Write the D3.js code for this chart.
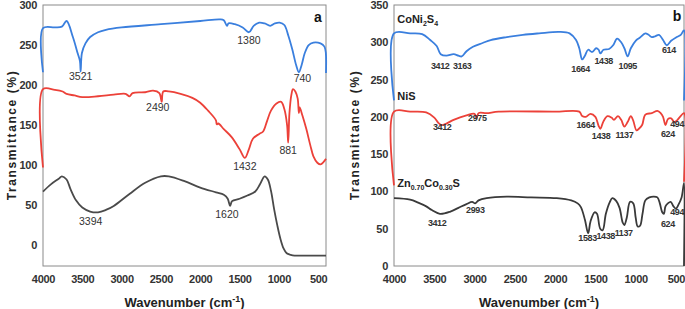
<!DOCTYPE html>
<html>
<head>
<meta charset="utf-8">
<script src="https://cdn.jsdelivr.net/npm/d3@7"></script>
<style>
  body { margin: 0; background: #fff; }
  svg text { font-family: "Liberation Sans", Arial, sans-serif; }
</style>
</head>
<body>
<div id="chart"></div>
<script>
// wavenumber ticks shared by both panels
const xTicks = [4000, 3500, 3000, 2500, 2000, 1500, 1000, 500];
const yTicksA = [0, 50, 100, 150, 200, 250, 300];
const yTicksB = [0, 50, 100, 150, 200, 250, 300, 350];

// panel a spectra, [wavenumber, transmittance]
const aBlue = [[4000, 216], [4000, 271], [3850, 272], [3760, 273], [3700, 280], [3620, 260], [3560, 240],
  [3530, 230], [3521, 217], [3505, 240], [3460, 252], [3400, 260], [3300, 266], [3200, 269], [3000, 272],
  [2500, 276], [2000, 280], [1750, 282], [1700, 281], [1660, 274], [1640, 277], [1560, 276], [1460, 272],
  [1380, 266], [1320, 274], [1250, 278], [1180, 277], [1110, 274], [1050, 277], [990, 278], [930, 275],
  [880, 262], [830, 245], [780, 225], [745, 216], [710, 225], [670, 240], [620, 250], [560, 253],
  [470, 252], [420, 248], [402, 240], [400, 215]];
const aRed = [[4000, 97], [4000, 195], [3850, 194], [3750, 192], [3700, 189], [3600, 187], [3500, 185],
  [3300, 186], [3100, 188], [2950, 189], [2900, 186], [2860, 190], [2700, 191], [2600, 193], [2520, 190],
  [2490, 179], [2470, 192], [2400, 192], [2250, 189], [2100, 184], [2000, 178], [1900, 168], [1800, 156],
  [1790, 151], [1770, 152], [1700, 145], [1600, 135], [1500, 120], [1432, 109], [1380, 120], [1330, 133],
  [1250, 139], [1200, 142], [1150, 155], [1100, 168], [1030, 177], [970, 179], [930, 170], [895, 150],
  [881, 128], [865, 165], [840, 188], [820, 195], [790, 192], [760, 183], [745, 165], [735, 172], [700, 162],
  [650, 145], [600, 125], [560, 111], [510, 103], [470, 101], [430, 104], [400, 108]];
const aGray = [[4000, 67], [3900, 76], [3800, 83], [3760, 86], [3700, 82], [3650, 70], [3580, 56], [3500, 47],
  [3400, 42], [3300, 41], [3200, 44], [3100, 49], [2900, 64], [2700, 78], [2500, 86], [2400, 86], [2200, 80],
  [2000, 72], [1800, 66], [1700, 63], [1650, 58], [1620, 49], [1595, 55], [1500, 58], [1400, 62], [1300, 67],
  [1240, 76], [1180, 86], [1140, 82], [1100, 68], [1060, 45], [1020, 25], [980, 8], [940, -4], [900, -10],
  [850, -12], [800, -13], [700, -13], [400, -13]];

// panel b spectra
const bBlue = [[4000, 222], [4000, 312], [3800, 312], [3650, 311], [3550, 303], [3470, 295], [3420, 284],
  [3350, 282], [3260, 284], [3200, 282], [3160, 281], [3100, 288], [3020, 294], [2900, 299], [2800, 303],
  [2600, 307], [2400, 310], [2200, 312], [1950, 314], [1820, 312], [1740, 303], [1700, 292], [1664, 277],
  [1630, 282], [1590, 290], [1540, 287], [1490, 292], [1460, 290], [1438, 285], [1400, 290], [1330, 291],
  [1280, 296], [1230, 305], [1180, 300], [1140, 292], [1100, 281], [1060, 292], [1000, 302], [950, 306],
  [880, 312], [840, 310], [800, 307], [760, 308], [710, 310], [660, 303], [614, 296], [560, 302],
  [490, 307], [440, 310], [400, 316], [400, 222]];
const bRed = [[4000, 108], [4000, 207], [3800, 207], [3600, 206], [3500, 199], [3450, 192], [3410, 189],
  [3350, 191], [3260, 196], [3100, 202], [3000, 204], [2975, 198], [2950, 205], [2850, 205], [2700, 207],
  [2000, 207], [1700, 207], [1664, 201], [1620, 200], [1560, 204], [1500, 200], [1460, 188], [1438, 184],
  [1400, 194], [1350, 201], [1300, 199], [1270, 196], [1220, 201], [1180, 196], [1140, 187], [1100, 193],
  [1060, 201], [1030, 195], [990, 182], [960, 184], [920, 189], [880, 203], [800, 205], [730, 208],
  [690, 205], [660, 200], [630, 189], [600, 197], [560, 198], [520, 193], [490, 195], [450, 200],
  [400, 205], [400, 113]];
const bBlack = [[4000, 91], [3800, 89], [3700, 85], [3600, 80], [3530, 75], [3430, 70], [3300, 73],
  [3200, 78], [3100, 83], [3030, 86], [2993, 84], [2950, 88], [2850, 91], [2600, 93], [2300, 92],
  [1980, 91], [1800, 88], [1720, 84], [1680, 79], [1630, 62], [1590, 44], [1560, 60], [1510, 72],
  [1480, 70], [1440, 50], [1410, 48], [1370, 70], [1320, 86], [1290, 91], [1240, 87], [1200, 78],
  [1160, 58], [1140, 55], [1110, 65], [1070, 86], [1030, 84], [1000, 65], [975, 53], [945, 54],
  [915, 70], [880, 88], [830, 92], [780, 93], [730, 92], [700, 84], [670, 72], [650, 70], [630, 80],
  [600, 84], [565, 86], [530, 80], [500, 77], [470, 82], [430, 92], [400, 111], [400, 0]];

// peak labels: [text, wavenumber, transmittance, anchor]
const aLabels = [["3521", 3521, 211], ["1380", 1380, 256], ["740", 700, 209], ["2490", 2540, 172],
  ["881", 881, 119], ["1432", 1432, 99], ["3394", 3394, 30], ["1620", 1660, 38]];
const bLabels = [["3412", 3427, 269], ["3163", 3153, 269], ["1664", 1684, 265], ["1438", 1397, 275],
  ["1095", 1098, 269], ["614", 588, 290],
  ["3412", 3402, 186], ["2975", 2966, 198], ["1664", 1621, 189], ["1438", 1430, 175],
  ["1137", 1140, 176], ["624", 600, 177], ["494", 400, 191, "end"],
  ["3412", 3465, 58], ["2993", 2991, 75], ["1583", 1597, 38], ["1438", 1372, 40],
  ["1137", 1148, 44], ["624", 600, 57], ["494", 400, 73, "end"]];

const blue = "#3a7fde", red = "#ec4139", gray = "#4a4a4a";

const svg = d3.select("#chart").append("svg")
  .attr("width", 685)
  .attr("height", 309);

function drawPanel(p) {
  const x = d3.scaleLinear().domain([4000, 400]).range([p.left, p.right]);
  const y = d3.scaleLinear().domain(p.yDomain).range([p.bottom, p.top]);
  const g = svg.append("g");

  // frame
  g.append("rect")
    .attr("x", p.left).attr("y", p.top)
    .attr("width", p.right - p.left).attr("height", p.bottom - p.top)
    .attr("fill", "none").attr("stroke", "#8a8a8a").attr("stroke-width", 1);

  const xAxis = g.append("g")
    .attr("transform", `translate(0,${p.bottom})`)
    .call(d3.axisBottom(x).tickValues(xTicks).tickSize(0).tickPadding(9).tickFormat(d3.format("d")));
  xAxis.select(".domain").remove();

  const yAxis = g.append("g")
    .attr("transform", `translate(${p.left},0)`)
    .call(d3.axisLeft(y).tickValues(p.yTicks).tickSize(0).tickPadding(6));
  yAxis.select(".domain").remove();

  g.selectAll(".tick text")
    .attr("font-family", "'Liberation Sans Narrow', 'Liberation Sans', Arial, sans-serif")
    .attr("font-size", 11).attr("font-weight", "bold").attr("fill", "#333")
    .attr("letter-spacing", -0.3);

  const line = d3.line()
    .x(d => x(d[0]))
    .y(d => y(d[1]))
    .curve(d3.curveCatmullRom.alpha(0.5));

  p.series.forEach(s => {
    g.append("path")
      .datum(s.data)
      .attr("d", line)
      .attr("fill", "none")
      .attr("stroke", s.color)
      .attr("stroke-width", 1.8);
  });

  g.selectAll(".peak")
    .data(p.labels)
    .enter()
    .append("text")
    .attr("x", d => x(d[1]))
    .attr("y", d => y(d[2]))
    .attr("dy", "0.35em")
    .attr("text-anchor", d => d[3] || "middle")
    .attr("font-size", p.labelSize)
    .attr("font-weight", p.labelWeight)
    .attr("letter-spacing", p.labelSpacing)
    .attr("fill", "#333")
    .text(d => d[0]);

  // axis titles
  g.append("text")
    .attr("x", (p.left + p.right) / 2)
    .attr("y", 302)
    .attr("dy", "0.35em")
    .attr("text-anchor", "middle")
    .attr("font-size", 13).attr("font-weight", "bold").attr("fill", "#222")
    .text("Wavenumber (cm")
    .call(t => {
      t.append("tspan").attr("dy", "-5").attr("font-size", 9).text("-1");
      t.append("tspan").attr("dy", "5").text(")");
    });

  g.append("text")
    .attr("transform", `translate(${p.titleX},${p.titleY}) rotate(-90)`)
    .attr("text-anchor", "middle")
    .attr("dy", "0.35em")
    .attr("font-size", 12).attr("font-weight", "bold").attr("fill", "#222")
    .attr("letter-spacing", 1.6)
    .text("Transmittance (%)");

  g.append("text")
    .attr("x", p.tag[1]).attr("y", p.tag[2])
    .attr("dy", "0.35em")
    .attr("text-anchor", "middle")
    .attr("font-size", 14).attr("font-weight", "bold").attr("fill", "#111")
    .text(p.tag[0]);

  return { x, y, g };
}

drawPanel({
  left: 43, right: 326, top: 5, bottom: 266,
  yDomain: [-26, 300], yTicks: yTicksA,
  series: [{ data: aBlue, color: blue }, { data: aRed, color: red }, { data: aGray, color: gray }],
  labels: aLabels, labelSize: 10.5, labelWeight: "normal", labelSpacing: 0,
  titleX: 12, titleY: 135, tag: ["a", 318, 17]
});

const pb = drawPanel({
  left: 394, right: 684, top: 5, bottom: 266,
  yDomain: [0, 350], yTicks: yTicksB,
  series: [{ data: bBlue, color: blue }, { data: bRed, color: red }, { data: bBlack, color: "#3a3a3a" }],
  labels: bLabels, labelSize: 9, labelWeight: "bold", labelSpacing: -0.4,
  titleX: 355, titleY: 135, tag: ["b", 677, 16]
});

// sample names in panel b
const names = [
  { parts: [["CoNi", 0], ["2", 1], ["S", 0], ["4", 1]], v: 326 },
  { parts: [["NiS", 0]], v: 223 },
  { parts: [["Zn", 0], ["0.70", 1], ["Co", 0], ["0.30", 1], ["S", 0]], v: 106 }
];
names.forEach(n => {
  const t = pb.g.append("text")
    .attr("x", pb.x(3960))
    .attr("y", pb.y(n.v))
    .attr("dy", "0.35em")
    .attr("font-size", 11).attr("font-weight", "bold").attr("fill", "#222");
  let shifted = false;
  n.parts.forEach(([s, sub]) => {
    const dy = sub && !shifted ? 3 : (!sub && shifted ? -3 : 0);
    shifted = !!sub;
    t.append("tspan")
      .attr("font-size", sub ? 7 : 11)
      .attr("dy", dy)
      .text(s);
  });
});
</script>
</body>
</html>
